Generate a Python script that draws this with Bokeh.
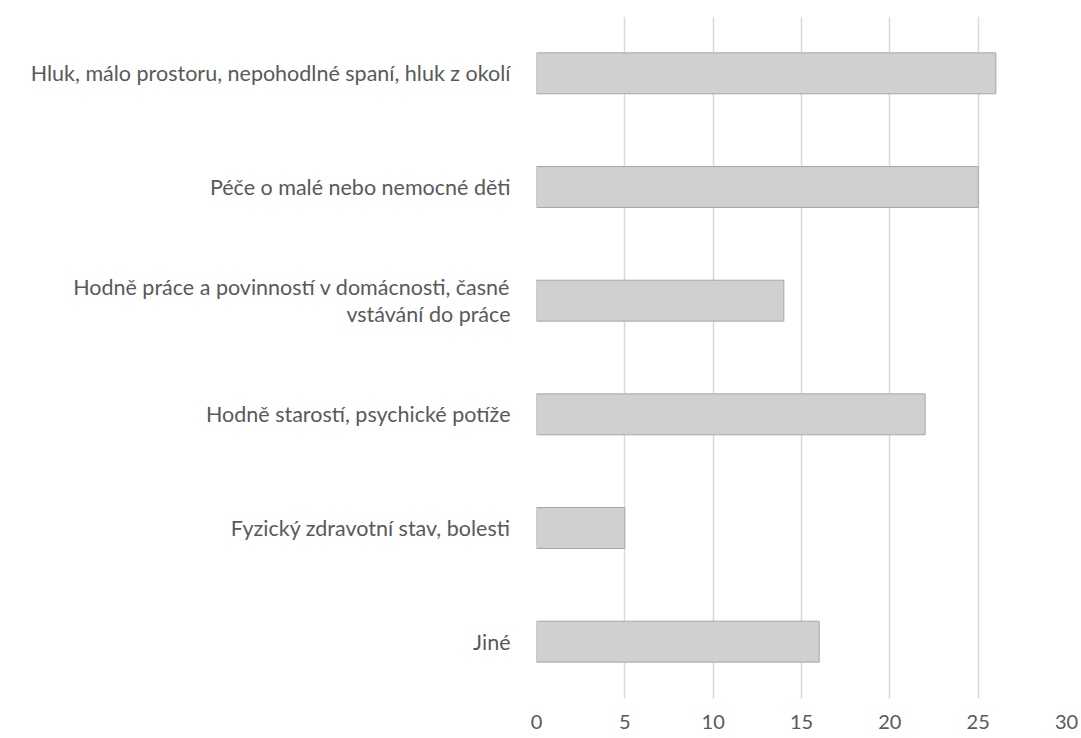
from bokeh.plotting import figure
from bokeh.models import FactorRange, ColumnDataSource, SingleIntervalTicker
from bokeh.embed import file_html
from bokeh.resources import INLINE

categories = [
    "Hluk, málo prostoru, nepohodlné spaní, hluk z okolí",
    "Péče o malé nebo nemocné děti",
    "Hodně práce a povinností v domácnosti, časné\nvstávání do práce",
    "Hodně starostí, psychické potíže",
    "Fyzický zdravotní stav, bolesti",
    "Jiné",
]
values = [26, 25, 14, 22, 5, 16]

FONT = "Lato"
TXT = "#595959"

src = ColumnDataSource(dict(cat=categories, val=values))

p = figure(
    width=1081, height=738,
    y_range=FactorRange(factors=list(reversed(categories))),
    x_range=(0, 30),
    output_backend="svg", toolbar_location=None,
    min_border_left=536, min_border_right=15, min_border_top=16, min_border_bottom=40,
)
p.hbar(y="cat", right="val", left=0, height=0.36, source=src,
       fill_color="#d0d0d0", line_color="#a6a6a6", line_width=1)

p.outline_line_color = None
p.background_fill_color = "white"
p.border_fill_color = "white"

p.xaxis.ticker = SingleIntervalTicker(interval=5)
p.xaxis.axis_line_color = None
p.xaxis.major_tick_line_color = None
p.xaxis.minor_tick_line_color = None
p.xaxis.major_label_text_font = FONT
p.xaxis.major_label_text_font_size = "20px"
p.xaxis.major_label_text_color = TXT
p.xaxis.major_label_standoff = 10

p.yaxis.axis_line_color = None
p.yaxis.major_tick_line_color = None
p.yaxis.minor_tick_line_color = None
p.yaxis.major_label_text_font = FONT
p.yaxis.major_label_text_font_size = "21.5px"
p.yaxis.major_label_text_color = TXT
p.yaxis.major_label_text_line_height = 1.05
p.yaxis.major_label_standoff = 20

p.xgrid.grid_line_color = "#d9d9d9"
p.xgrid.grid_line_width = 1.5
p.ygrid.grid_line_color = None

open("out.html", "w").write(file_html(p, INLINE))
